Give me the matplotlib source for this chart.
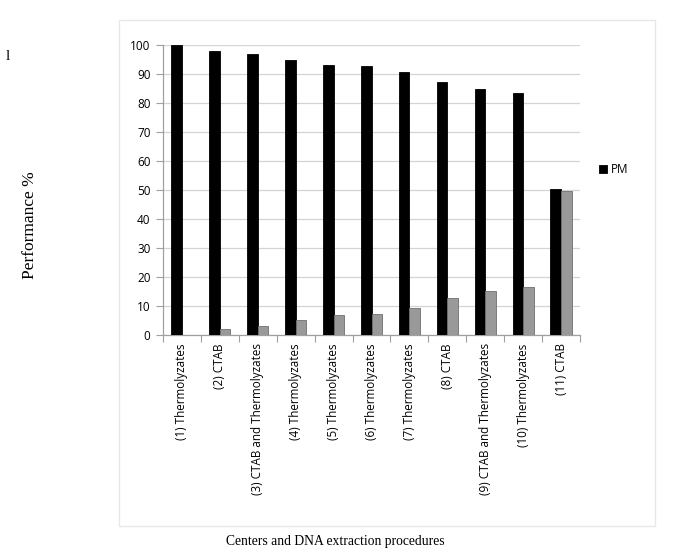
import numpy as np
import matplotlib.pyplot as plt
from matplotlib.patches import Rectangle

categories = ["(1) Thermolyzates", "(2) CTAB", "(3) CTAB and Thermolyzates",
              "(4) Thermolyzates", "(5) Thermolyzates", "(6) Thermolyzates",
              "(7) Thermolyzates", "(8) CTAB", "(9) CTAB and Thermolyzates",
              "(10) Thermolyzates", "(11) CTAB"]
pm = [100, 97.8, 96.8, 94.8, 93.1, 92.6, 90.7, 87.1, 84.8, 83.5, 50.4]
other = [0, 2.2, 3.2, 5.2, 6.9, 7.4, 9.3, 12.9, 15.2, 16.5, 49.6]
y_ticks = list(range(0, 101, 10))

sans = ["Open Sans", "DejaVu Sans"]
serif = ["Liberation Serif", "DejaVu Serif"]

fig = plt.figure(figsize=(6.85, 5.6), dpi=100)

# light outer chart frame
fig.patches.append(Rectangle((119 / 685, 1 - 526 / 560), (655 - 119) / 685, (526 - 20) / 560,
                             transform=fig.transFigure, fill=False, edgecolor="#e8e8e8",
                             linewidth=1.0))

ax = fig.add_axes([163 / 685, 1 - 335 / 560, (580 - 163) / 685, (335 - 45) / 560])

x = np.arange(len(categories))
w = 0.28
ax.bar(x - w / 2, pm, w, color="black", edgecolor="black", linewidth=0.6, label="PM", zorder=3)
ax.bar(x + w / 2, other, w, color="#999999", edgecolor="#6f6f6f", linewidth=0.6,
       label="_nolegend_", zorder=3)

ax.set_xlim(-0.5, len(categories) - 0.5)
ax.set_ylim(0, 100)
ax.set_yticks(y_ticks)
ax.set_yticklabels([str(v) for v in y_ticks], family=sans, fontsize=8.5)
ax.yaxis.grid(True, color="#d4d4d4", linewidth=0.9, zorder=0)
ax.set_axisbelow(True)

ax.set_xticks(np.arange(len(categories) + 1) - 0.5)
ax.set_xticklabels([])
ax.set_xticks(x, minor=True)
ax.set_xticklabels(categories, minor=True, rotation=90, family=sans, fontsize=8.4, va="top")
ax.tick_params(axis="x", which="minor", length=0, pad=6)
ax.tick_params(axis="x", which="major", length=5, color="#a0a0a0")
ax.tick_params(axis="y", length=5, color="#a0a0a0", pad=4)

for s in ["top", "right"]:
    ax.spines[s].set_visible(False)
for s in ["left", "bottom"]:
    ax.spines[s].set_color("#a0a0a0")
    ax.spines[s].set_linewidth(0.9)

leg = ax.legend(loc="center left", bbox_to_anchor=(1.02, 0.57), frameon=False,
                prop={"family": sans, "size": 8.5}, handlelength=0.7, handleheight=0.7,
                handletextpad=0.3)

fig.text(30 / 685, 1 - 225 / 560, "Performance %", rotation=90, ha="center", va="center",
         family=serif, fontsize=12.5)
fig.text(335 / 685, 1 - 542 / 560, "Centers and DNA extraction procedures", ha="center",
         va="center", family=serif, fontsize=9.8)
fig.text(8 / 685, 1 - 57 / 560, "l", ha="center", va="center", family=serif, fontsize=11)

fig.savefig("out.png", dpi=100)
